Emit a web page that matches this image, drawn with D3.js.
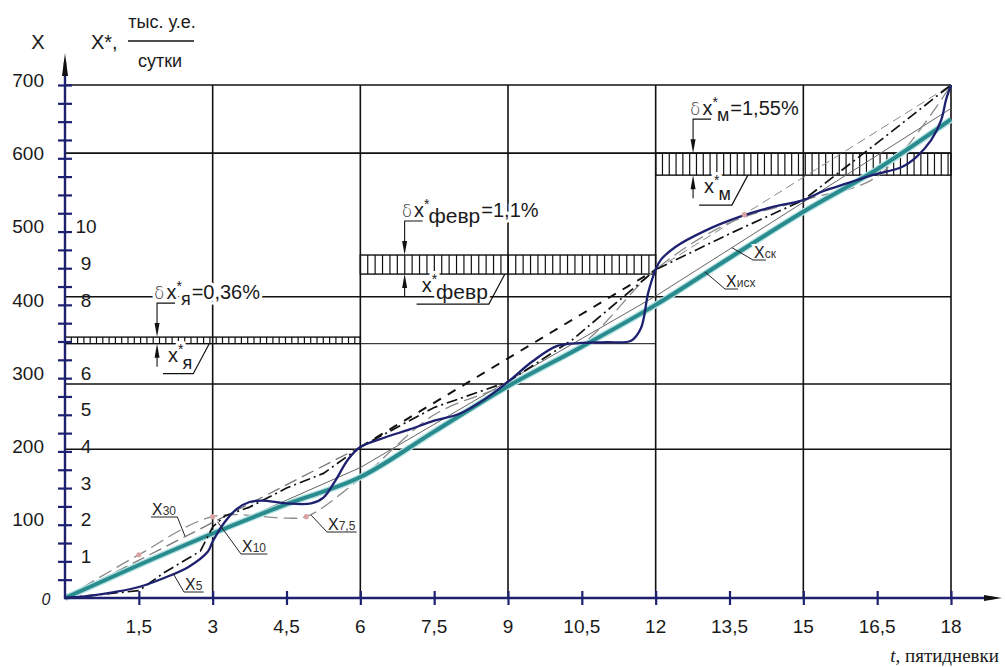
<!DOCTYPE html>
<html>
<head>
<meta charset="utf-8">
<script src="https://cdn.jsdelivr.net/npm/d3@7"></script>
<style>
body { margin: 0; background: #fff; }
text { font-family: "Liberation Sans", Arial, sans-serif; fill: #1a1a1a; }
</style>
</head>
<body>
<div id="chart"></div>
<script>
// axis ticks
var tTicks = [1.5, 3, 4.5, 6, 7.5, 9, 10.5, 12, 13.5, 15, 16.5, 18];
var tLabels = ["1,5", "3", "4,5", "6", "7,5", "9", "10,5", "12", "13,5", "15", "16,5", "18"];
var xLabels = [100, 200, 300, 400, 500, 600, 700];
var xStarLabels = [1, 2, 3, 4, 5, 6, 8, 9, 10];   // X* = X / 50
var gridT = [3, 6, 9, 12, 15, 18];
var gridX = [203, 292, 411, 607, 700];

// series  [t, X]
var xIsh = [[0,0],[1.5,45],[3,88],[4.5,128],[6,165],[7.5,227],[9,289],[10.5,343],[12,400],[13.5,464],[15,527],[16.5,585],[18,653]];
var xSk  = [[0,0],[6,178],[9,296],[12,412],[15,540],[18,668]];
var x5   = [[0,0],[0.5,3],[1,8],[1.5,15],[2,27],[2.5,42],[2.9,63],[3,77],[3.25,104],[3.5,122],[3.75,131],[4,133],[4.5,129],[5,129],[5.25,137],[5.5,161],[5.75,189],[6,206],[6.5,219],[7,230],[7.5,242],[8,251],[8.5,270],[9,295],[9.5,323],[10,344],[10.5,348],[11,349],[11.5,351],[11.7,368],[11.85,417],[12,448],[12.1,461],[12.4,479],[13,501],[13.7,520],[14.4,534],[15,543],[15.4,555],[15.9,566],[16.4,577],[17,588],[17.3,602],[17.6,625],[17.8,652],[17.9,680],[18,700]];
var x10  = [[0,0],[1.5,10],[2,34],[2.75,64],[3,97],[3.25,112],[3.75,124],[4.5,150],[5.25,170],[6,206],[7.5,260],[9,295],[10.3,352],[12,448],[13.5,497],[15,543],[16.5,621],[18,700]];
var x75  = [[0,0],[1.5,59],[3,111],[4.5,109],[4.9,111],[6,163],[7.5,250],[9,292],[10.5,346],[12,448],[13.5,512],[15,543],[16.5,575],[18,700]];
var x75Dots = [[1.5,59],[3,111],[4.9,111],[13.8,523]];
var x30  = [[0,0],[6,206],[12,448],[18,700]];

// permissible deviation bands per month
var bandT  = [[0,6],[6,12],[12,18]];
var bandLo = [347, 442, 577];
var bandHi = [356, 468, 607];
var bandSub = ["я", "февр", "м"];
var bandDelta = ["0,36%", "1,1%", "1,55%"];
var bandLeaderT = [1.87, 6.9, 12.76];

var w = 1005, h = 667;
var svg = d3.select("#chart").append("svg")
  .attr("width", w).attr("height", h);
svg.append("rect").attr("width", w).attr("height", h).attr("fill", "#fff");

var x = d3.scaleLinear().domain([0, 18]).range([65, 951]);
var y = d3.scaleLinear().domain([0, 700]).range([598, 85]);

var navy = "#1e2170";

// grid
var grid = svg.append("g").attr("stroke", "#111").attr("stroke-width", 1.6);
grid.selectAll(".gv").data(gridT).enter().append("line")
  .attr("x1", d => x(d)).attr("x2", d => x(d))
  .attr("y1", y(0)).attr("y2", y(700));
grid.selectAll(".gh").data(gridX).enter().append("line")
  .attr("x1", x(0)).attr("x2", x(18))
  .attr("y1", d => y(d)).attr("y2", d => y(d));
// bottom line of january band continues through february
grid.append("line").attr("stroke-width", 1)
  .attr("x1", x(6)).attr("x2", x(12))
  .attr("y1", y(bandLo[0])).attr("y2", y(bandLo[0]));

// hatched bands
var bands = svg.append("g").attr("stroke", "#111");
bandT.forEach(function(bt, i) {
  var g = bands.append("g");
  g.append("rect")
    .attr("x", x(bt[0])).attr("width", x(bt[1]) - x(bt[0]))
    .attr("y", y(bandHi[i])).attr("height", y(bandLo[i]) - y(bandHi[i]))
    .attr("fill", "none").attr("stroke-width", 1.4);
  var step = i === 1 ? 7.4 : (i === 0 ? 6.3 : 6.8);
  var xs = d3.range(x(bt[0]) + step, x(bt[1]) - 1, step);
  g.selectAll("line").data(xs).enter().append("line")
    .attr("x1", d => d).attr("x2", d => d)
    .attr("y1", y(bandHi[i])).attr("y2", y(bandLo[i]))
    .attr("stroke-width", 1.2);
});

// curves
var line = d3.line().x(d => x(d[0])).y(d => y(d[1]));
var curves = svg.append("g").attr("fill", "none");

curves.append("path").datum(xSk).attr("d", line)
  .attr("stroke", "#666").attr("stroke-width", 1);

curves.append("path").datum(x30.slice(0, 2)).attr("d", line)
  .attr("stroke", "#777").attr("stroke-width", 1.3).attr("stroke-dasharray", "13,6");
curves.append("path").datum(x30.slice(1, 3)).attr("d", line)
  .attr("stroke", "#111").attr("stroke-width", 2).attr("stroke-dasharray", "9,8");
curves.append("path").datum(x30.slice(2, 4)).attr("d", line)
  .attr("stroke", "#888").attr("stroke-width", 1).attr("stroke-dasharray", "9,5");

curves.append("path").datum(x75).attr("d", line.curve(d3.curveCatmullRom.alpha(0.5)))
  .attr("stroke", "#8a8a8a").attr("stroke-width", 1.3).attr("stroke-dasharray", "14,6");
line.curve(d3.curveLinear);

curves.append("path").datum(xIsh).attr("d", line.curve(d3.curveMonotoneX))
  .attr("stroke", "#b5e2e2").attr("stroke-width", 6.5);
curves.append("path").datum(xIsh).attr("d", line)
  .attr("stroke", "#2a8b8e").attr("stroke-width", 4);
line.curve(d3.curveLinear);

curves.append("path").datum(x10).attr("d", line)
  .attr("stroke", "#111").attr("stroke-width", 1.7).attr("stroke-dasharray", "11,4,2,4");

curves.append("path").datum(x5).attr("d", line.curve(d3.curveCatmullRom.alpha(0.5)))
  .attr("stroke", navy).attr("stroke-width", 2.3);
line.curve(d3.curveLinear);

svg.append("g").selectAll("circle").data(x75Dots).enter().append("circle")
  .attr("cx", d => x(d[0])).attr("cy", d => y(d[1])).attr("r", 2.6)
  .attr("fill", "#d9a3a3");

// axes
var yAxis = d3.axisLeft(y).tickValues(d3.range(25, 701, 25)).tickFormat("");
var yg = svg.append("g").attr("transform", "translate(" + x(0) + ",0)").call(yAxis);
yg.select(".domain").remove();
yg.selectAll(".tick line").attr("x1", -7).attr("x2", 7).attr("stroke", navy).attr("stroke-width", 2.2);

var xAxis = d3.axisBottom(x).tickValues(tTicks).tickFormat("");
var xg = svg.append("g").attr("transform", "translate(0," + y(0) + ")").call(xAxis);
xg.select(".domain").remove();
xg.selectAll(".tick line").attr("y1", -7).attr("y2", 7).attr("stroke", navy).attr("stroke-width", 2.2);

svg.append("line").attr("x1", x(0)).attr("x2", x(0)).attr("y1", y(0) + 1).attr("y2", 62)
  .attr("stroke", navy).attr("stroke-width", 2.4);
svg.append("path").attr("d", "M65,53 L62,76 L68,76 Z").attr("fill", "#111");
svg.append("line").attr("x1", x(0) - 1).attr("x2", 993).attr("y1", y(0)).attr("y2", y(0))
  .attr("stroke", navy).attr("stroke-width", 2.4);
svg.append("path").attr("d", "M1002,598 L984,595 L984,601 Z").attr("fill", "#111");

// tick labels
svg.append("g").selectAll("text").data(xLabels).enter().append("text")
  .attr("x", 44).attr("y", d => y(d) - 5).attr("dy", "0.35em")
  .attr("text-anchor", "end").attr("font-size", 19).text(d => d);
svg.append("g").selectAll("text").data(xStarLabels).enter().append("text")
  .attr("x", 86).attr("y", d => y(d * 50) - 5).attr("dy", "0.35em")
  .attr("text-anchor", "middle").attr("font-size", 19).text(d => d);
svg.append("g").selectAll("text").data(tTicks).enter().append("text")
  .attr("x", d => x(d)).attr("y", 633)
  .attr("text-anchor", "middle").attr("font-size", 19).text((d, i) => tLabels[i]);
svg.append("text").attr("x", 46).attr("y", 605).attr("text-anchor", "middle")
  .attr("font-size", 16).attr("font-style", "italic").attr("fill", "#555").text("0");

// axis titles
svg.append("text").attr("x", 38).attr("y", 49).attr("text-anchor", "middle")
  .attr("font-size", 20).text("X");
svg.append("text").attr("x", 91).attr("y", 49).attr("font-size", 20).text("X*,");
svg.append("text").attr("x", 162).attr("y", 28).attr("text-anchor", "middle")
  .attr("font-size", 18).text("тыс. у.е.");
svg.append("line").attr("x1", 128).attr("x2", 194).attr("y1", 41).attr("y2", 41)
  .attr("stroke", "#111").attr("stroke-width", 1.3);
svg.append("text").attr("x", 160).attr("y", 67).attr("text-anchor", "middle")
  .attr("font-size", 18).text("сутки");
var tt = svg.append("text").attr("x", 999).attr("y", 662).attr("text-anchor", "end")
  .attr("font-family", "Liberation Serif, serif").attr("font-size", 19);
tt.append("tspan").attr("font-style", "italic").attr("font-family", "Liberation Serif, serif").text("t");
tt.append("tspan").attr("font-family", "Liberation Serif, serif").text(", пятидневки");

// band annotations
var ann = svg.append("g");
bandT.forEach(function(bt, i) {
  var L = x(bandLeaderT[i]);
  var yt = y(bandHi[i]), yb = y(bandLo[i]);
  var subSize = i === 1 ? 21 : 18;
  // delta label
  var t1 = ann.append("text").attr("x", L - 3).attr("y", yt - 38).attr("font-size", 20)
    .attr("stroke", "#fff").attr("stroke-width", 6).attr("paint-order", "stroke");
  t1.append("tspan").attr("font-family", "DejaVu Sans").attr("font-weight", 300).attr("font-size", 17).attr("fill", "#444").text("δ");
  t1.append("tspan").attr("dx", 2).text("x");
  t1.append("tspan").attr("dy", -8).attr("font-size", 14).text("*");
  t1.append("tspan").attr("dx", -1).attr("dy", 14).attr("font-size", subSize).text(bandSub[i]);
  t1.append("tspan").attr("dx", 1).attr("dy", -6).text("=" + bandDelta[i]);
  // leader with arrows
  ann.append("path").attr("d", "M" + (L + 18) + "," + (yt - 34) + "H" + L + "V" + (yt - 12))
    .attr("fill", "none").attr("stroke", "#111").attr("stroke-width", 1.1);
  ann.append("path").attr("d", "M" + L + "," + yt + "L" + (L - 2.5) + "," + (yt - 14) + "L" + (L + 2.5) + "," + (yt - 14) + "Z")
    .attr("fill", "#111");
  ann.append("path").attr("d", "M" + L + "," + yb + "L" + (L - 2.5) + "," + (yb + 14) + "L" + (L + 2.5) + "," + (yb + 14) + "Z")
    .attr("fill", "#111");
  ann.append("line").attr("x1", L).attr("x2", L).attr("y1", yb + 12).attr("y2", yb + 23)
    .attr("stroke", "#111").attr("stroke-width", 1.1);
  // value label under band
  var lx = L + (i === 1 ? 17 : 11);
  var t2 = ann.append("text").attr("x", lx).attr("y", yb + 18).attr("font-size", 20)
    .attr("stroke", "#fff").attr("stroke-width", 6).attr("paint-order", "stroke");
  t2.append("tspan").text("x");
  t2.append("tspan").attr("dy", -8).attr("font-size", 14).text("*");
  t2.append("tspan").attr("dx", -1).attr("dy", 15).attr("font-size", subSize).text(bandSub[i]);
  var bb = t2.node().getBBox();
  var ux = bb.x + bb.width + 1, uy = yb + 30;
  ann.append("path").attr("d", "M" + (lx - 5) + "," + uy + "H" + ux + "L" + (ux + 16) + "," + yb)
    .attr("fill", "none").attr("stroke", "#111").attr("stroke-width", 1.2);
});

// curve labels
var curveNames = ["30", "10", "5", "7,5", "ск", "исх"];
var curveTargets = [[2.44, 84], [3.1, 104], [2.2, 33], [5.0, 113], [13.55, 478], [13.0, 445]];
var labelPos = [[152, 515], [242, 552], [185, 590], [328, 530], [754, 258], [726, 287]];
var lab = svg.append("g");
curveNames.forEach(function(n, i) {
  var p = labelPos[i];
  var t = lab.append("text").attr("x", p[0]).attr("y", p[1]).attr("font-size", 16)
    .attr("stroke", "#fff").attr("stroke-width", 4).attr("paint-order", "stroke");
  t.append("tspan").text("X");
  t.append("tspan").attr("font-size", 12).attr("fill", "#333").text(n);
  var bb = t.node().getBBox();
  var uy = p[1] + 2;
  var x0 = p[0] - 1, x1 = p[0] + (i >= 4 ? 12 : bb.width + 1);
  var tx = x(curveTargets[i][0]), ty = y(curveTargets[i][1]);
  var from = i === 0 ? x1 : x0;
  lab.append("path").attr("d", "M" + x0 + "," + uy + "H" + x1 + "M" + from + "," + uy + "L" + tx + "," + ty)
    .attr("fill", "none").attr("stroke", "#222").attr("stroke-width", 1);
});
</script>
</body>
</html>
